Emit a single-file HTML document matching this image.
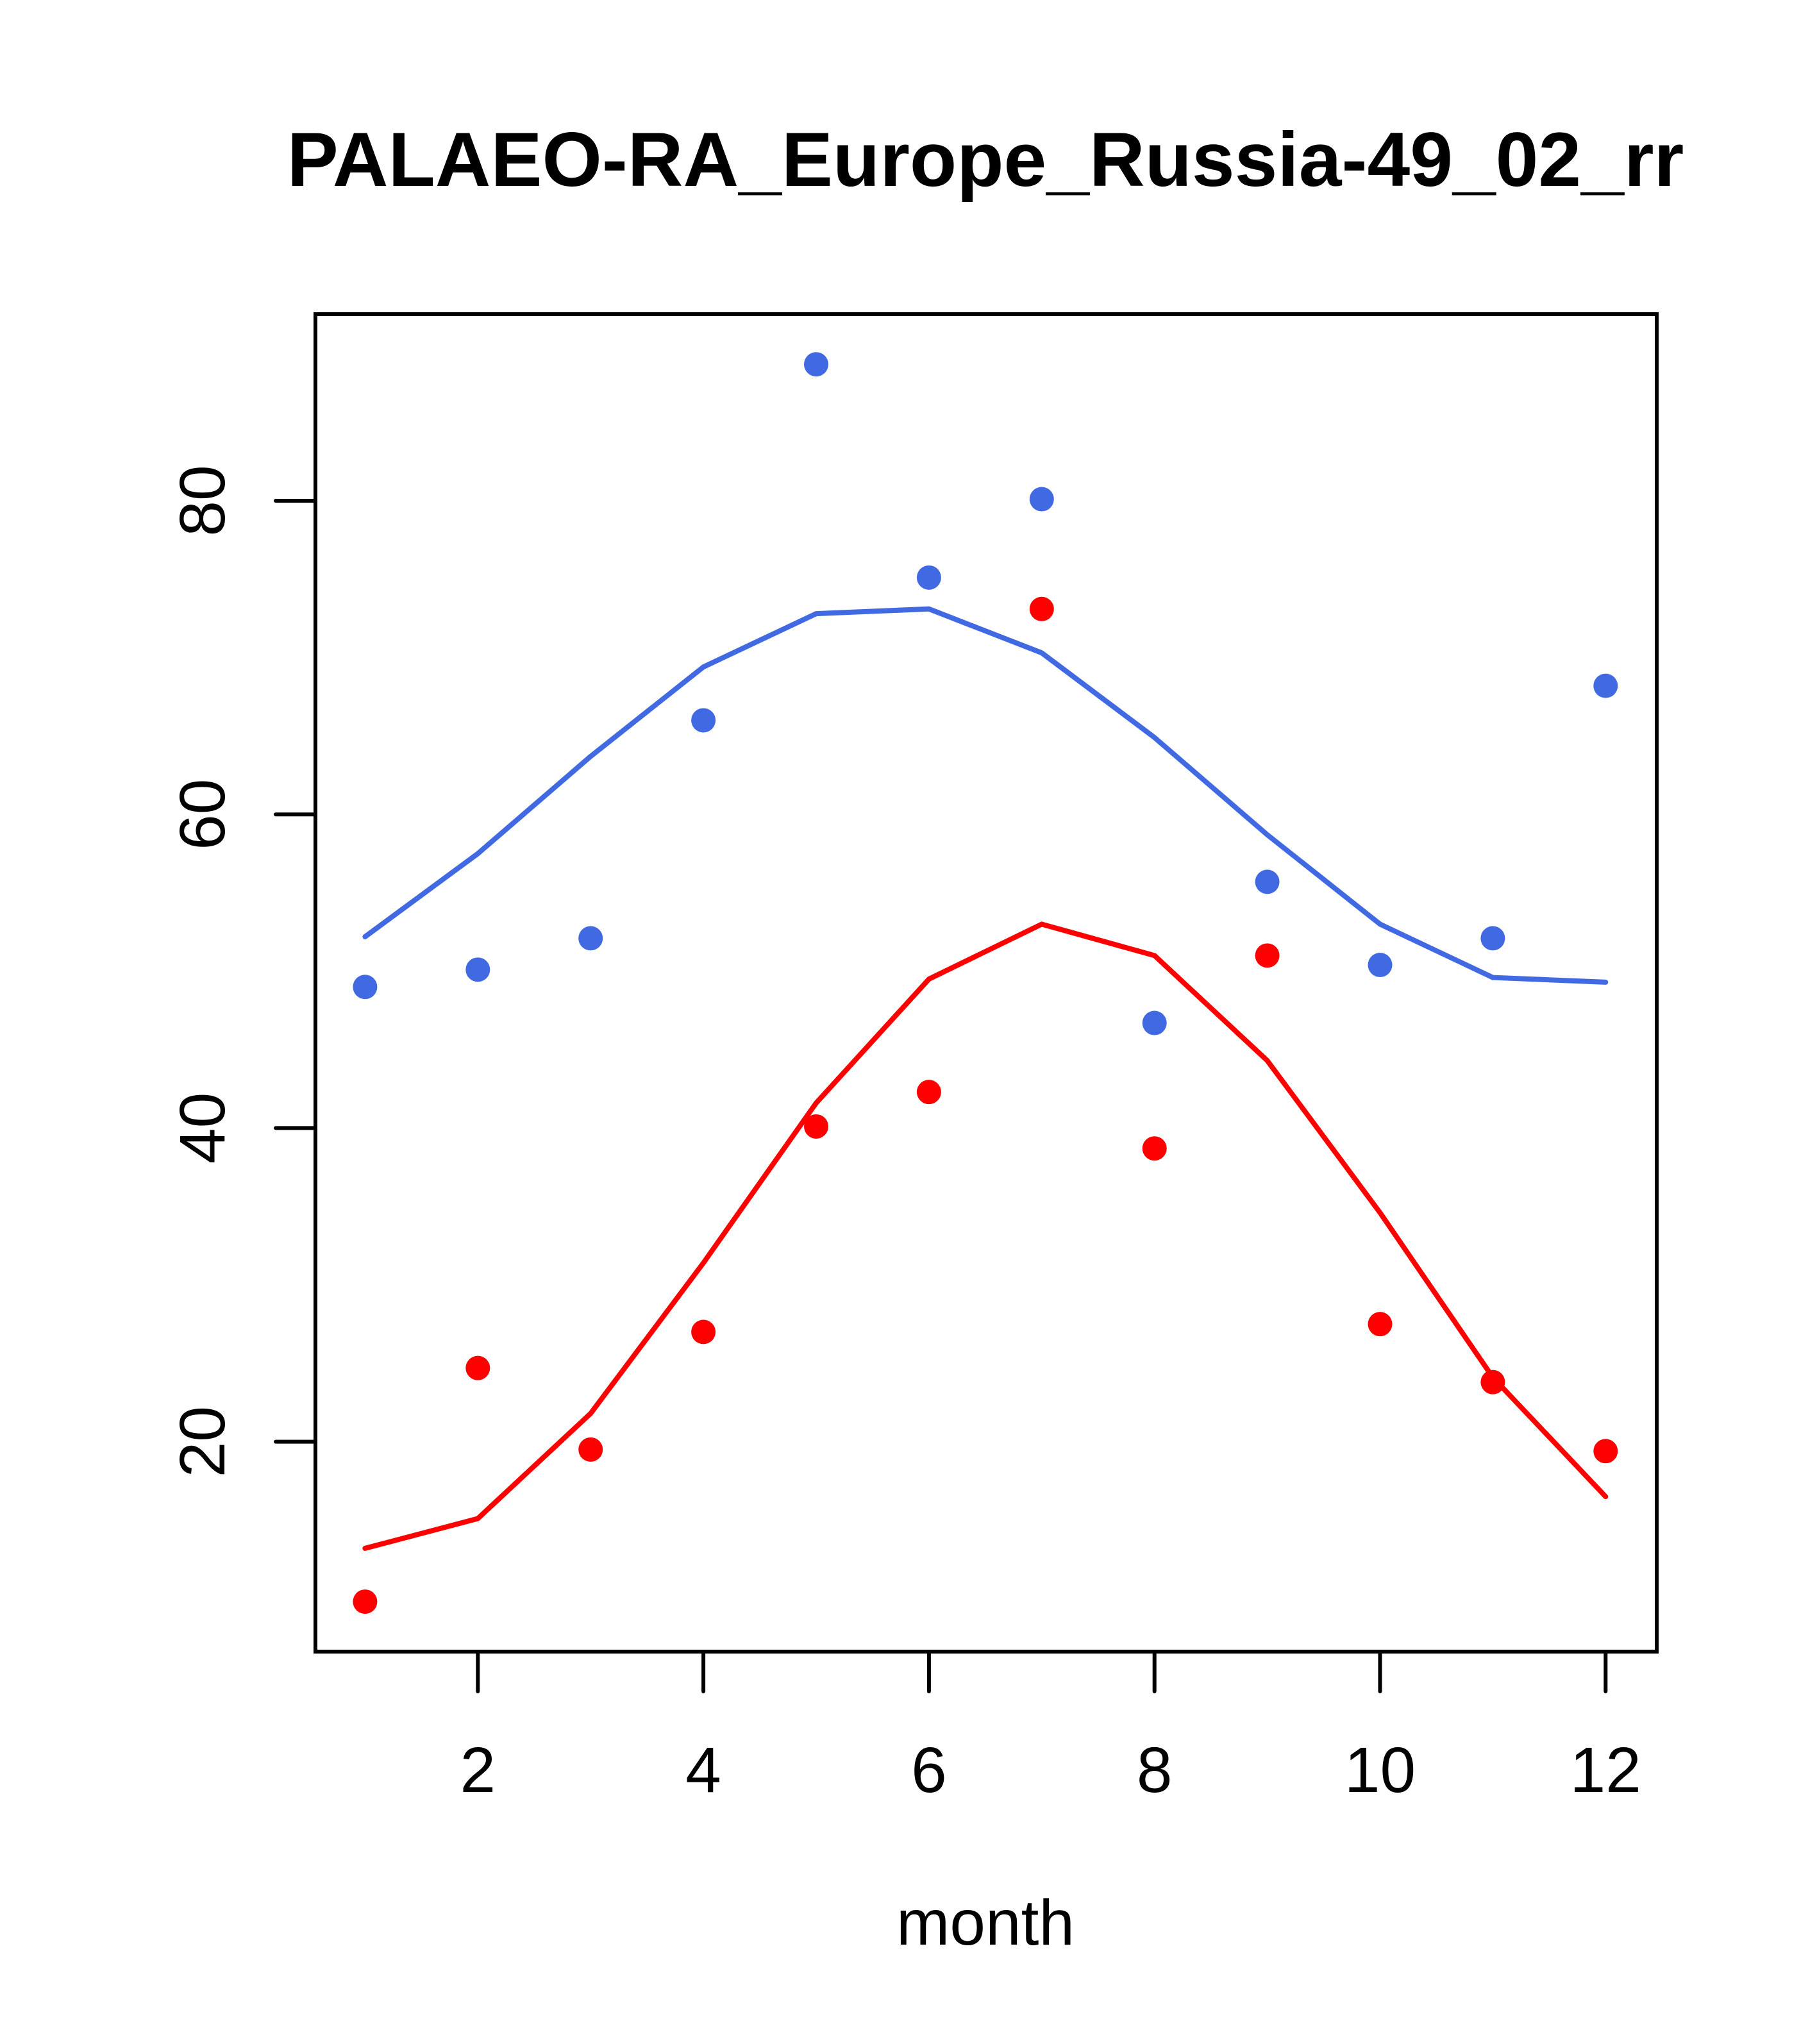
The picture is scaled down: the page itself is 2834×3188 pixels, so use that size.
<!DOCTYPE html>
<html><head><meta charset="utf-8"><style>html,body{margin:0;padding:0;background:#fff}svg{display:block}</style></head>
<body>
<svg id="chart" width="2834" height="3188" viewBox="0 0 2834 3188" xmlns="http://www.w3.org/2000/svg" font-family="'Liberation Sans', Arial, sans-serif">
<rect width="2834" height="3188" fill="#fff"/>
<text x="1537" y="290" font-size="120" font-weight="bold" text-anchor="middle">PALAEO-RA_Europe_Russia-49_02_rr</text>
<g id="plot"></g>
<text x="1537" y="3033" font-size="100" text-anchor="middle">month</text>
</svg>
<script>
const months = [1,2,3,4,5,6,7,8,9,10,11,12];
const bluePoints = [49.0,50.1,52.1,66.0,88.7,75.1,80.1,46.7,55.7,50.4,52.1,68.2];
const blueLine = [52.2,57.5,63.7,69.4,72.8,73.1,70.3,64.9,58.7,53.0,49.6,49.3];
const redPoints = [9.8,24.7,19.5,27.0,40.1,42.3,73.1,38.7,51.0,27.5,23.8,19.4];
const redLine = [13.2,15.1,21.8,31.4,41.6,49.5,53.0,51.0,44.3,34.6,24.1,16.5];
const xTicks = [2,4,6,8,10,12];
const yTicks = [20,40,60,80];

const NS = "http://www.w3.org/2000/svg";
const g = document.getElementById('plot');
const L = 492, R = 2584, T = 490, B = 2576;
const xPx = v => 569.4 + (v - 1) * 175.9;
const yPx = v => 781 + (80 - v) * 24.46;
function mk(tag, attrs) {
  const e = document.createElementNS(NS, tag);
  for (const k in attrs) e.setAttribute(k, attrs[k]);
  g.appendChild(e);
  return e;
}
let e = mk('rect', {x:L, y:T, width:R-L, height:B-T, fill:'none', stroke:'#000', 'stroke-width':6});



xTicks.forEach(t => {
  const x = xPx(t);
  const l = mk('line', {x1:x, y1:B, x2:x, y2:B+62, stroke:'#000', 'stroke-width':6, 'stroke-linecap':'round'});
  
  
  const tx = mk('text', {x:x, y:2795, 'font-size':100, 'text-anchor':'middle'});
  tx.textContent = t;
  
  
});
yTicks.forEach(t => {
  const y = yPx(t);
  const l = mk('line', {x1:430, y1:y, x2:L, y2:y, stroke:'#000', 'stroke-width':6, 'stroke-linecap':'round'});
  
  
  const tx = mk('text', {x:350, y:y, 'font-size':100, 'text-anchor':'middle', transform:'rotate(-90 350 '+y+')'});
  tx.textContent = t;
  
  
});

function drawLine(vals, color, name) {
  const pts = vals.map((v,i) => xPx(months[i]) + ',' + yPx(v)).join(' ');
  const p = mk('polyline', {points:pts, fill:'none', stroke:color, 'stroke-width':8, 'stroke-linejoin':'round', 'stroke-linecap':'round'});
  
  
}
function drawPoints(vals, color, name) {
  vals.forEach((v,i) => {
    const c = mk('circle', {cx:xPx(months[i]), cy:yPx(v), r:19, fill:color});
    
    
  });
}
drawLine(blueLine, '#4169E1', 'blue-line');
drawLine(redLine, '#FF0000', 'red-line');
drawPoints(bluePoints, '#4169E1', 'blue-point');
drawPoints(redPoints, '#FF0000', 'red-point');
</script>
</body></html>
